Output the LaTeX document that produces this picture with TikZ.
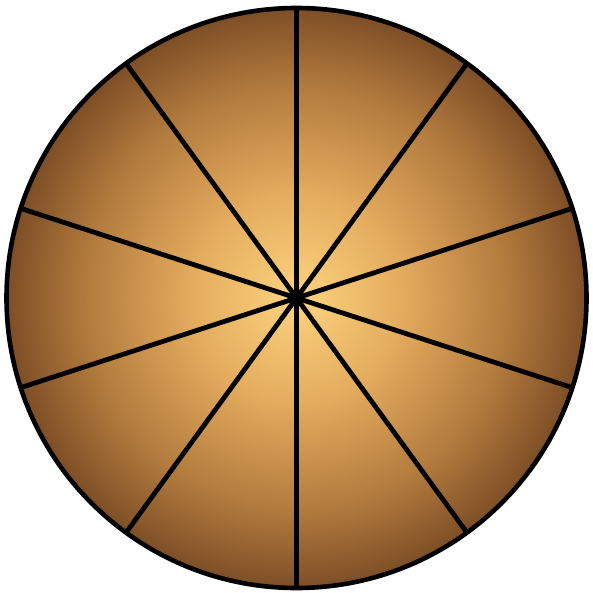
\documentclass[tikz,border=0pt]{standalone}
\definecolor{pieA}{RGB}{252,212,128}
\definecolor{pieB}{RGB}{228,172,94}
\definecolor{pieC}{RGB}{180,124,62}
\definecolor{pieD}{RGB}{125,78,38}
\pgfdeclareradialshading{piegrad}{\pgfpoint{0bp}{0bp}}{color(0bp)=(pieA); color(9bp)=(pieB); color(18bp)=(pieC); color(25bp)=(pieD); color(50bp)=(pieD)}
\tikzset{spoke/.style={line width=4.8pt,black,line cap=butt}}
\begin{document}
\begin{tikzpicture}[x=1pt,y=-1pt]
\useasboundingbox (0,0) rectangle (593,593);
\fill[white] (0,0) rectangle (593,593);
\coordinate (c) at (296.5,298);
\shade[shading=piegrad] (c) circle (290);
\foreach \a in {18,54,...,342} {
  \draw[spoke] (c) -- +(\a:290);
}
\draw[line width=4.6pt,black] (c) circle (290);
\fill[black] (c) circle (5);
\end{tikzpicture}
\end{document}
